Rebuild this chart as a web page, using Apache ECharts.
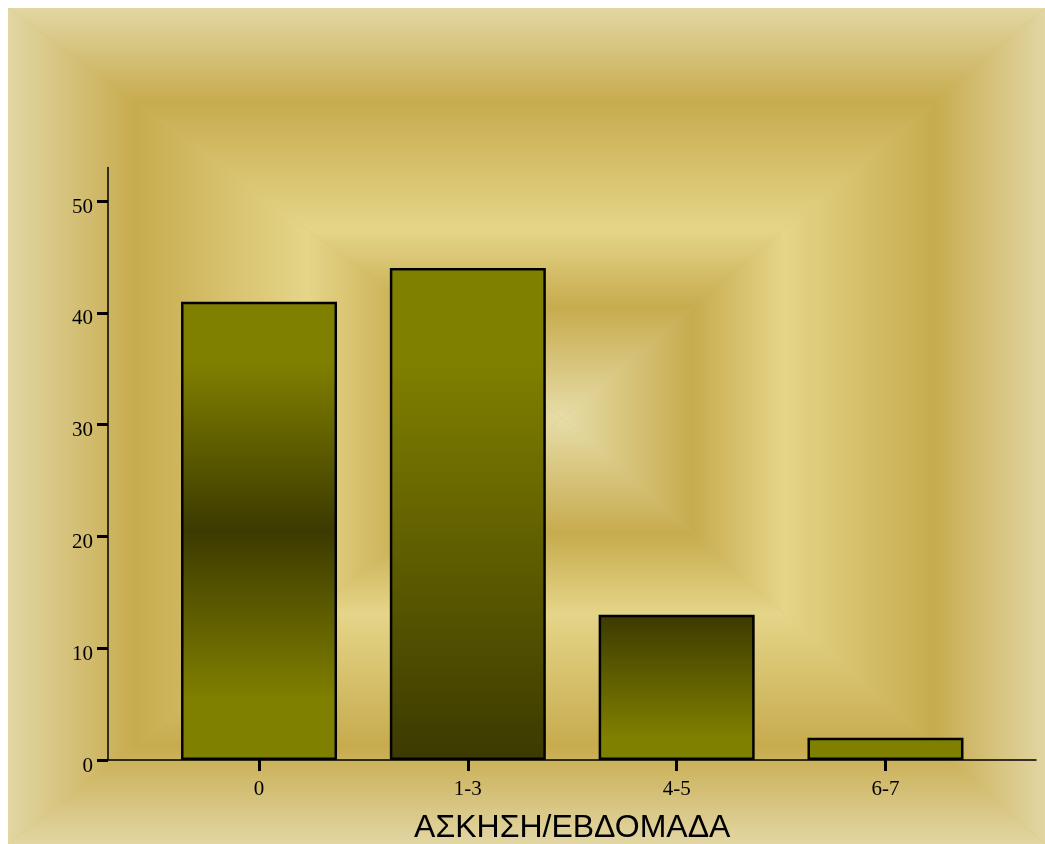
<!DOCTYPE html>
<html>
<head>
<meta charset="utf-8">
<style>
  html, body { margin: 0; padding: 0; background: #ffffff; }
  #chart { width: 1045px; height: 844px; }
</style>
<script src="https://cdn.jsdelivr.net/npm/echarts@6/dist/echarts.min.js"></script>
</head>
<body>
<div id="chart"></div>
<script>
// Exercise sessions per week and number of respondents
const categories = ['0', '1-3', '4-5', '6-7'];
const counts = [41, 44, 13, 2];
const yTicks = [0, 10, 20, 30, 40, 50];
const yMax = 53;
const axisTitle = 'ΑΣΚΗΣΗ/ΕΒΔΟΜΑΔΑ';

// Olive shades used for the bar fills
const OLIVE = '#808000';
const DARK = '#3c3a00';
const barFills = [
  [[0, OLIVE], [0.13, OLIVE], [0.5, DARK], [0.87, OLIVE], [1, OLIVE]],
  [[0, OLIVE], [0.18, OLIVE], [1, DARK]],
  [[0, DARK], [0.85, OLIVE], [1, OLIVE]],
  [[0, OLIVE], [1, OLIVE]]
];

function vGrad(stops) {
  return new echarts.graphic.LinearGradient(0, 0, 0, 1,
    stops.map(s => ({ offset: s[0], color: s[1] })));
}

// Rectangular "frame" backdrop: four triangles meeting at a focal point,
// each shaded from the focal point outwards to its own edge.
const bg = { x0: 8, y0: 8, x1: 1045, y1: 844, cx: 562, cy: 418 };
const ringStops = [
  { offset: 0, color: '#e7dda8' },
  { offset: 0.27, color: '#c7ab4e' },
  { offset: 0.46, color: '#e5d589' },
  { offset: 0.77, color: '#c7ab4e' },
  { offset: 1, color: '#e2d6a3' }
];
function tri(points, x, y, x2, y2) {
  return {
    type: 'polygon', silent: true, z: -10,
    shape: { points: points },
    style: {
      fill: new echarts.graphic.LinearGradient(x, y, x2, y2, ringStops),
      stroke: null
    }
  };
}
const backdrop = [
  { type: 'rect', silent: true, z: -11,
    shape: { x: bg.x0, y: bg.y0, width: bg.x1 - bg.x0, height: bg.y1 - bg.y0 },
    style: { fill: '#d2bb68' } },
  tri([[bg.x0, bg.y0], [bg.x1, bg.y0], [bg.cx, bg.cy]], 0, 1, 0, 0),
  tri([[bg.x0, bg.y1], [bg.x1, bg.y1], [bg.cx, bg.cy]], 0, 0, 0, 1),
  tri([[bg.x0, bg.y0], [bg.x0, bg.y1], [bg.cx, bg.cy]], 1, 0, 0, 0),
  tri([[bg.x1, bg.y0], [bg.x1, bg.y1], [bg.cx, bg.cy]], 0, 0, 1, 0)
];

const serif = '"Liberation Serif", "DejaVu Serif", serif';
const chart = echarts.init(document.getElementById('chart'), null, { renderer: 'canvas' });

chart.setOption({
  animation: false,
  backgroundColor: '#ffffff',
  graphic: backdrop,
  grid: [
    // frame grid: carries the y scale and the full-width baseline
    { left: 108, right: 9, top: 167.5, bottom: 84, containLabel: false, outerBoundsMode: 'none' },
    // inner grid: category bands for the bars
    { left: 154.6, right: 55.1, top: 167.5, bottom: 84, containLabel: false, outerBoundsMode: 'none' }
  ],
  xAxis: [
    {
      gridIndex: 0, type: 'value', min: 0, max: 1,
      axisLine: { show: true, lineStyle: { color: '#000', width: 1.5 } },
      axisTick: { show: false }, axisLabel: { show: false }, splitLine: { show: false }
    },
    {
      gridIndex: 1, type: 'category', data: categories,
      axisLine: { show: false },
      axisTick: { show: true, alignWithLabel: true, length: 11, lineStyle: { color: '#000', width: 3 } },
      axisLabel: { color: '#000', fontFamily: serif, fontSize: 21, margin: 19 },
      splitLine: { show: false },
      name: axisTitle, nameLocation: 'middle', nameGap: 52,
      nameTextStyle: { color: '#000', fontFamily: '"Liberation Sans", Arial, sans-serif', fontSize: 32 }
    }
  ],
  yAxis: [
    {
      gridIndex: 0, type: 'value', min: 0, max: yMax,
      axisLine: { show: true, lineStyle: { color: '#000', width: 1.5 } },
      axisTick: { show: true, customValues: yTicks, length: 11, lineStyle: { color: '#000', width: 3 } },
      axisLabel: { customValues: yTicks, color: '#000', fontFamily: serif, fontSize: 21, margin: 15,
        verticalAlign: 'top', lineHeight: 12 },
      splitLine: { show: false }
    },
    { gridIndex: 1, type: 'value', min: 0, max: yMax, show: false }
  ],
  series: [{
    type: 'bar',
    xAxisIndex: 1, yAxisIndex: 1,
    barWidth: 156,
    data: counts.map((v, i) => ({
      value: v,
      itemStyle: { color: vGrad(barFills[i]) }
    })),
    itemStyle: { borderColor: '#000', borderWidth: 2.5 }
  }]
});
</script>
</body>
</html>
